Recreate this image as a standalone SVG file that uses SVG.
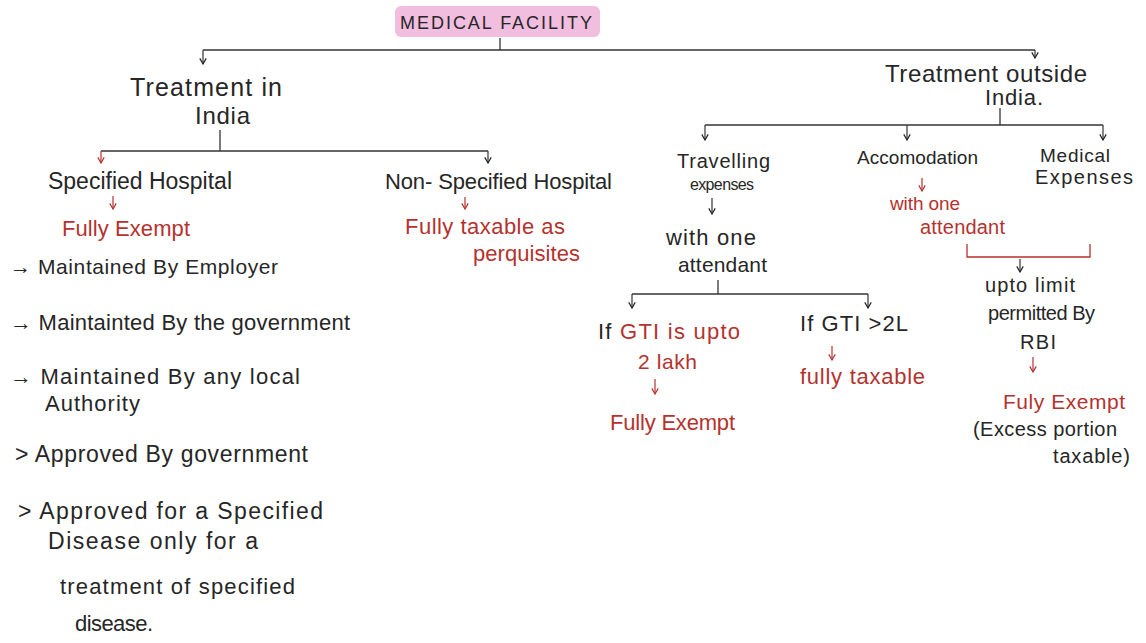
<svg xmlns="http://www.w3.org/2000/svg" width="1146" height="643" viewBox="0 0 1146 643" font-size="20">
  <defs>
    <marker id="ah" viewBox="0 0 10 10" refX="9" refY="5" markerWidth="8" markerHeight="8" orient="auto" markerUnits="userSpaceOnUse">
      <path d="M2,1 L9,5 L2,9" fill="none" stroke="#222" stroke-width="1.5"/>
    </marker>
    <marker id="ahr" viewBox="0 0 10 10" refX="9" refY="5" markerWidth="8" markerHeight="8" orient="auto" markerUnits="userSpaceOnUse">
      <path d="M2,1 L9,5 L2,9" fill="none" stroke="#b5322e" stroke-width="1.5"/>
    </marker>
  </defs>
  <style>
    text { font-family: "Liberation Sans", Arial, sans-serif; fill: #262626; }
    .red { fill: #b5322e; }
    .ln { stroke: #333; stroke-width: 1.3; fill: none; }
    .lr { stroke: #b5322e; stroke-width: 1.3; fill: none; }
    .ar { stroke: #333; stroke-width: 1.2; fill: none; marker-end: url(#ah); }
    .arr { stroke: #b5322e; stroke-width: 1.2; fill: none; marker-end: url(#ahr); }
  </style>
  <rect width="1146" height="643" fill="#ffffff"/>

  <!-- connectors -->
  <g id="connectors">
    <!-- root -->
    <line class="ln" x1="500" y1="38" x2="500" y2="50"/>
    <line class="ln" x1="203" y1="50" x2="1035" y2="50"/>
    <line class="ar" x1="203" y1="50" x2="203" y2="64"/>
    <line class="ar" x1="1035" y1="50" x2="1035" y2="58"/>
    <!-- treatment in India -->
    <line class="ln" x1="220" y1="130" x2="220" y2="151"/>
    <line class="ln" x1="101" y1="151" x2="488" y2="151"/>
    <line class="arr" x1="101" y1="151" x2="101" y2="163"/>
    <line class="ar" x1="488" y1="151" x2="488" y2="163"/>
    <line class="arr" x1="113" y1="196" x2="113" y2="209"/>
    <line class="arr" x1="465" y1="197" x2="465" y2="209"/>
    <!-- treatment outside India -->
    <line class="ln" x1="1000" y1="108" x2="1000" y2="125"/>
    <line class="ln" x1="705" y1="125" x2="1103" y2="125"/>
    <line class="ar" x1="705" y1="125" x2="705" y2="140"/>
    <line class="ar" x1="907" y1="125" x2="907" y2="140"/>
    <line class="ar" x1="1103" y1="125" x2="1103" y2="140"/>
    <!-- travelling -->
    <line class="ar" x1="712" y1="198" x2="712" y2="214"/>
    <line class="ln" x1="718" y1="280" x2="718" y2="294"/>
    <line class="ln" x1="632" y1="294" x2="868" y2="294"/>
    <line class="ar" x1="632" y1="294" x2="632" y2="308"/>
    <line class="ar" x1="868" y1="294" x2="868" y2="308"/>
    <line class="arr" x1="655" y1="379" x2="655" y2="394"/>
    <line class="arr" x1="832" y1="346" x2="832" y2="360"/>
    <!-- accommodation / medical -->
    <line class="arr" x1="922" y1="178" x2="922" y2="191"/>
    <path class="lr" d="M967,244 L967,257 L1090,257 L1090,244"/>
    <line class="ar" x1="1020" y1="259" x2="1020" y2="272"/>
    <line class="arr" x1="1033" y1="357" x2="1033" y2="372"/>
  </g>

  <g id="root">
    <rect x="395" y="6" width="205" height="31" rx="6" fill="#efb3da" opacity="0.85"/>
    <text x="400" y="29" font-size="18" textLength="192" lengthAdjust="spacing">MEDICAL  FACILITY</text>
  </g>

  <g id="treatment-india">
    <text x="130" y="96" font-size="25" textLength="152" lengthAdjust="spacing">Treatment in</text>
    <text x="195" y="124" font-size="24" textLength="55" lengthAdjust="spacing">India</text>
  </g>

  <g id="specified">
    <text x="48" y="189" font-size="23" textLength="184" lengthAdjust="spacing">Specified Hospital</text>
    <text x="62" y="236" font-size="22" class="red" textLength="128" lengthAdjust="spacing">Fully Exempt</text>
  </g>

  <g id="specified-list">
    <text x="10" y="274" font-size="21" textLength="268" lengthAdjust="spacing">→ Maintained By Employer</text>
    <text x="10" y="330" font-size="22" textLength="340" lengthAdjust="spacing">→ Maintainted By the government</text>
    <text x="10" y="384" font-size="22" textLength="290" lengthAdjust="spacing">→ Maintained By any local</text>
    <text x="45" y="411" font-size="22" textLength="95" lengthAdjust="spacing">Authority</text>
    <text x="15" y="462" font-size="23" textLength="293" lengthAdjust="spacing">&gt; Approved By government</text>
    <text x="18" y="519" font-size="23" textLength="305" lengthAdjust="spacing">&gt; Approved for a Specified</text>
    <text x="48" y="549" font-size="23" textLength="210" lengthAdjust="spacing">Disease only for a</text>
    <text x="60" y="594" font-size="22" textLength="235" lengthAdjust="spacing">treatment of specified</text>
    <text x="75" y="631" font-size="22" textLength="78" lengthAdjust="spacing">disease.</text>
  </g>

  <g id="non-specified">
    <text x="385" y="189" font-size="22" textLength="227" lengthAdjust="spacing">Non- Specified Hospital</text>
    <text x="405" y="234" font-size="22" class="red" textLength="160" lengthAdjust="spacing">Fully taxable as</text>
    <text x="473" y="261" font-size="22" class="red" textLength="107" lengthAdjust="spacing">perquisites</text>
  </g>

  <g id="treatment-outside">
    <text x="885" y="82" font-size="24" textLength="202" lengthAdjust="spacing">Treatment outside</text>
    <text x="985" y="105" font-size="22" textLength="58" lengthAdjust="spacing">India.</text>
  </g>

  <g id="travelling">
    <text x="677" y="168" font-size="20" textLength="93" lengthAdjust="spacing">Travelling</text>
    <text x="690" y="190" font-size="16" textLength="64" lengthAdjust="spacing">expenses</text>
    <text x="666" y="245" font-size="22" textLength="90" lengthAdjust="spacing">with one</text>
    <text x="678" y="272" font-size="21" textLength="89" lengthAdjust="spacing">attendant</text>
  </g>

  <g id="gti-upto">
    <text x="598" y="339" font-size="22" textLength="142" lengthAdjust="spacing">If <tspan class="red">GTI is upto</tspan></text>
    <text x="638" y="369" font-size="21" class="red" textLength="59" lengthAdjust="spacing">2 lakh</text>
    <text x="610" y="430" font-size="22" class="red" textLength="125" lengthAdjust="spacing">Fully Exempt</text>
  </g>

  <g id="gti-above">
    <text x="800" y="331" font-size="22" textLength="108" lengthAdjust="spacing">If GTI &gt;2L</text>
    <text x="800" y="384" font-size="22" class="red" textLength="125" lengthAdjust="spacing">fully taxable</text>
  </g>

  <g id="accommodation">
    <text x="857" y="164" font-size="19" textLength="121" lengthAdjust="spacing">Accomodation</text>
    <text x="890" y="210" font-size="19" class="red" textLength="70" lengthAdjust="spacing">with one</text>
    <text x="920" y="234" font-size="20" class="red" textLength="85" lengthAdjust="spacing">attendant</text>
  </g>

  <g id="medical-expenses">
    <text x="1040" y="162" font-size="19" textLength="70" lengthAdjust="spacing">Medical</text>
    <text x="1035" y="184" font-size="20" textLength="98" lengthAdjust="spacing">Expenses</text>
  </g>

  <g id="rbi-limit">
    <text x="985" y="292" font-size="20" textLength="90" lengthAdjust="spacing">upto limit</text>
    <text x="988" y="320" font-size="20" textLength="107" lengthAdjust="spacing">permitted By</text>
    <text x="1020" y="349" font-size="20" textLength="36" lengthAdjust="spacing">RBI</text>
    <text x="1003" y="409" font-size="21" class="red" textLength="122" lengthAdjust="spacing">Fuly Exempt</text>
    <text x="973" y="436" font-size="20" textLength="144" lengthAdjust="spacing">(Excess portion</text>
    <text x="1053" y="463" font-size="20" textLength="77" lengthAdjust="spacing">taxable)</text>
  </g>
</svg>
